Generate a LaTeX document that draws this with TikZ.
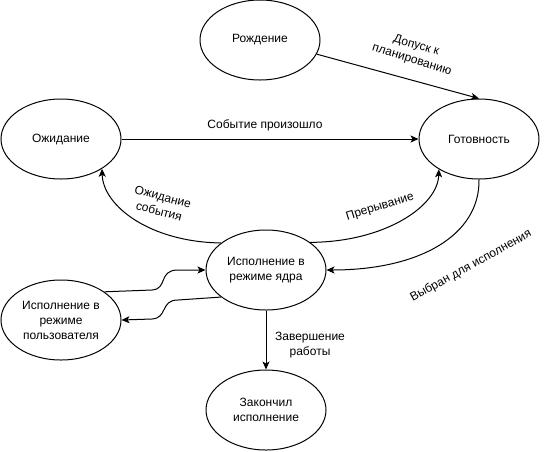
\documentclass[tikz,border=0pt]{standalone}
\usepackage{fontspec}
\setmainfont{Liberation Sans}
\usetikzlibrary{shapes.geometric,arrows.meta}
\tikzset{
  st/.style={draw, ellipse, line width=1pt, minimum width=120pt, minimum height=80pt, inner sep=0pt, align=center},
  arr/.style={line width=1pt, -{Stealth[length=8pt,width=7pt,inset=2pt]}},
  lbl/.style={align=center, inner sep=1pt},
  every node/.style={font=\fontsize{12}{15}\selectfont}
}
\begin{document}
\begin{tikzpicture}[x=1pt,y=-1pt]
\useasboundingbox (0,0) rectangle (548,451);
\node[st] (b) at (260,40) {Рождение};
\node[st] (w) at (61,139) {Ожидание};
\node[st] (r) at (479,139) {Готовность};
\node[st] (k) at (266,270) {Исполнение в\\режиме ядра};
\node[st] (u) at (61,320) {Исполнение в\\режиме\\пользователя};
\node[st] (f) at (266,410) {Закончил\\исполнение};

\draw[arr] (b.-14) -- (r.north);
\draw[arr] (w.east) -- (r.west);
\draw[arr] (k.149) .. controls (150,242) and (103,206) .. (w.-36);
\draw[arr] (k.32) .. controls (385,242) and (438,206) .. (r.217);
\draw[arr] (r.south) .. controls (480,235) and (420,270) .. (k.east);
\draw[arr] (u.33) -- (152,290) .. controls (168,289) and (158,270) .. (178,270) -- (k.west);
\draw[arr] (k.211) -- (178,300) .. controls (160,300) and (168,318) .. (152,319) -- (u.east);
\draw[arr] (k.south) -- (f.north);

\node[lbl, rotate=-17] (l1) at (414,53) {Допуск к\\планированию};
\node[lbl] (l2) at (265,125) {Событие произошло};
\node[lbl, rotate=-15] (l3) at (161,204) {Ожидание\\события};
\node[lbl, rotate=17] (l4) at (380,207) {Прерывание};
\node[lbl, rotate=29] (l5) at (471,266) {Выбран для исполнения};
\node[lbl] (l6) at (310,345) {Завершение\\работы};
\end{tikzpicture}
\end{document}
